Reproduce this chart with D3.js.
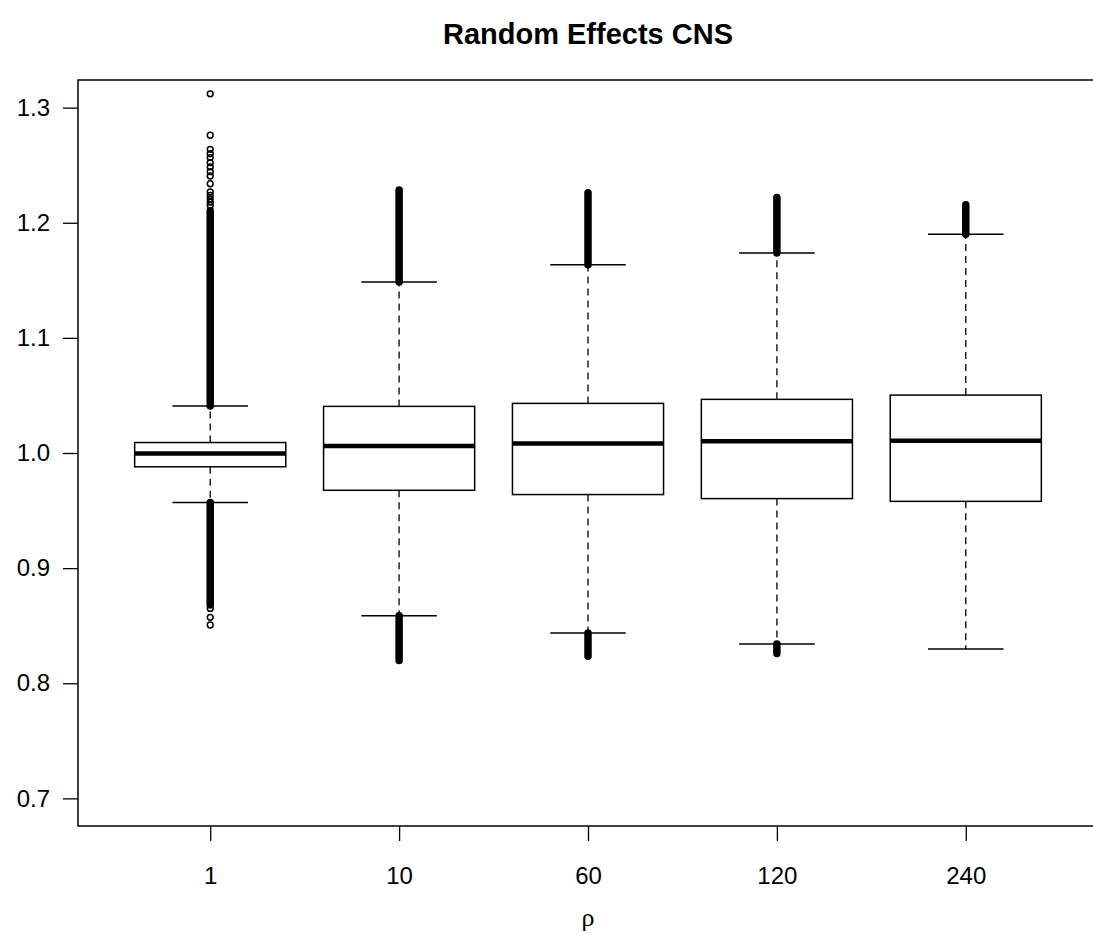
<!DOCTYPE html>
<html>
<head>
<meta charset="utf-8">
<script src="https://cdn.jsdelivr.net/npm/d3@7"></script>
<style>
  body { margin: 0; background: #fff; }
  svg { display: block; }
</style>
</head>
<body>
<div id="chart"></div>
<script>
// groups on the x axis
const categories = ['1', '10', '60', '120', '240'];

// five-number summaries per group
const lowerWhisker = [0.9569, 0.8587, 0.8436, 0.8340, 0.8297];
const q1 = [0.9880, 0.9676, 0.9639, 0.9604, 0.9580];
const median = [0.9996, 1.0060, 1.0083, 1.0103, 1.0106];
const q3 = [1.0091, 1.0405, 1.0431, 1.0466, 1.0503];
const upperWhisker = [1.0408, 1.1485, 1.1636, 1.1738, 1.1900];

// outliers so dense they merge into a solid run, from the whisker out to this value
const upperRunEnd = [1.2106, 1.2285, 1.2260, 1.2220, 1.2156];
const lowerRunEnd = [0.8680, 0.8197, 0.8235, 0.8258, null];

// separate outlier points (only the first group has them)
const upperPoints = [[1.3120, 1.2760, 1.2638, 1.2600, 1.2566, 1.2522, 1.2485, 1.2444, 1.2406,
  1.2339, 1.2267, 1.2237, 1.2208, 1.2179, 1.2150], [], [], [], []];
const lowerPoints = [[0.8650, 0.8573, 0.8506], [], [], [], []];

const yTicks = [0.7, 0.8, 0.9, 1.0, 1.1, 1.2, 1.3];

const width = 1093, height = 946;
const plotLeft = 78, plotRight = 1098, plotTop = 80, plotBottom = 826;

const svg = d3.select('#chart')
  .append('svg')
  .attr('width', width)
  .attr('height', height)
  .style('font-family', '"Liberation Sans", Arial, sans-serif');

const x = d3.scalePoint()
  .domain(categories)
  .range([plotLeft, plotRight])
  .padding(0.7);

const y = d3.scaleLinear()
  .domain([0.676, 1.324])
  .range([plotBottom, plotTop]);

const step = x.step();
const boxW = step * 0.8;
const capW = boxW * 0.5;

const rows = categories.map((c, i) => ({
  cat: c,
  lo: lowerWhisker[i], q1: q1[i], med: median[i], q3: q3[i], hi: upperWhisker[i],
  upRun: upperRunEnd[i], loRun: lowerRunEnd[i],
  upPts: upperPoints[i], loPts: lowerPoints[i]
}));

const g = svg.selectAll('.box')
  .data(rows)
  .enter()
  .append('g')
  .attr('class', 'box')
  .attr('transform', d => `translate(${x(d.cat)},0)`);

// dashed whiskers
g.append('line')
  .attr('y1', d => y(d.q3)).attr('y2', d => y(d.hi))
  .attr('stroke', '#000').attr('stroke-width', 1.3).attr('stroke-dasharray', '7,5');
g.append('line')
  .attr('y1', d => y(d.q1)).attr('y2', d => y(d.lo))
  .attr('stroke', '#000').attr('stroke-width', 1.3).attr('stroke-dasharray', '7,5');

// whisker caps
g.append('line')
  .attr('x1', -capW / 2).attr('x2', capW / 2)
  .attr('y1', d => y(d.hi)).attr('y2', d => y(d.hi))
  .attr('stroke', '#000').attr('stroke-width', 1.5);
g.append('line')
  .attr('x1', -capW / 2).attr('x2', capW / 2)
  .attr('y1', d => y(d.lo)).attr('y2', d => y(d.lo))
  .attr('stroke', '#000').attr('stroke-width', 1.5);

// boxes
g.append('rect')
  .attr('x', -boxW / 2)
  .attr('width', boxW)
  .attr('y', d => y(d.q3))
  .attr('height', d => y(d.q1) - y(d.q3))
  .attr('fill', '#fff')
  .attr('stroke', '#000')
  .attr('stroke-width', 1.5);

// medians
g.append('line')
  .attr('x1', -boxW / 2).attr('x2', boxW / 2)
  .attr('y1', d => y(d.med)).attr('y2', d => y(d.med))
  .attr('stroke', '#000').attr('stroke-width', 4.5);

// dense outlier runs
g.filter(d => d.upRun != null).append('line')
  .attr('y1', d => y(d.hi)).attr('y2', d => y(d.upRun))
  .attr('stroke', '#000').attr('stroke-width', 7.5).attr('stroke-linecap', 'round');
g.filter(d => d.loRun != null).append('line')
  .attr('y1', d => y(d.lo)).attr('y2', d => y(d.loRun))
  .attr('stroke', '#000').attr('stroke-width', 7.5).attr('stroke-linecap', 'round');

// single outliers
g.selectAll('.out')
  .data(d => d.upPts.concat(d.loPts))
  .enter()
  .append('circle')
  .attr('class', 'out')
  .attr('cy', v => y(v))
  .attr('r', 2.9)
  .attr('fill', 'none')
  .attr('stroke', '#000')
  .attr('stroke-width', 1.5);

// frame (right edge sits past the page)
svg.append('rect')
  .attr('x', plotLeft).attr('y', plotTop)
  .attr('width', plotRight - plotLeft).attr('height', plotBottom - plotTop)
  .attr('fill', 'none').attr('stroke', '#000').attr('stroke-width', 1.5);

// y axis
const yAxis = svg.append('g')
  .attr('transform', `translate(${plotLeft},0)`)
  .call(d3.axisLeft(y).tickValues(yTicks).tickFormat(d3.format('.1f')).tickSize(15).tickPadding(13));
yAxis.select('.domain').remove();
yAxis.selectAll('.tick line').attr('stroke', '#000').attr('stroke-width', 1.3);
yAxis.selectAll('.tick text').attr('font-size', 24).attr('fill', '#000')
  .attr('font-family', '"Liberation Sans", Arial, sans-serif');

// x axis
const xAxis = svg.append('g')
  .attr('transform', `translate(0,${plotBottom})`)
  .call(d3.axisBottom(x).tickSize(15).tickPadding(26));
xAxis.select('.domain').remove();
xAxis.selectAll('.tick line').attr('stroke', '#000').attr('stroke-width', 1.3);
xAxis.selectAll('.tick text').attr('font-size', 24).attr('fill', '#000')
  .attr('font-family', '"Liberation Sans", Arial, sans-serif');

// title
svg.append('text')
  .attr('x', (plotLeft + plotRight) / 2)
  .attr('y', 44)
  .attr('text-anchor', 'middle')
  .attr('font-weight', 'bold')
  .attr('font-size', 29)
  .text('Random Effects CNS');

// x axis label
svg.append('text')
  .attr('x', (plotLeft + plotRight) / 2)
  .attr('y', 926)
  .attr('text-anchor', 'middle')
  .attr('font-family', '"Liberation Serif", "DejaVu Serif", serif')
  .attr('font-size', 26)
  .text('ρ');
</script>
</body>
</html>
